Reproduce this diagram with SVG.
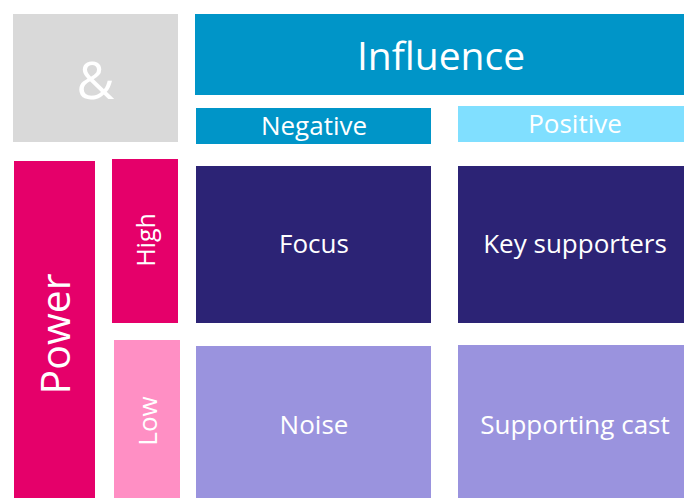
<svg xmlns="http://www.w3.org/2000/svg" width="684" height="498" viewBox="0 0 684 498">
  <style>
    text { font-family: "Open Sans", "Noto Sans", "Liberation Sans", sans-serif; fill: #ffffff; text-anchor: middle; }
    .grey { fill: #d9d9d9; }
    .blue { fill: #0095c8; }
    .light-blue { fill: #80dfff; }
    .magenta { fill: #e5006a; }
    .pink { fill: #ff8fc4; }
    .navy { fill: #2c2375; }
    .lavender { fill: #9a93de; }
    .cell { font-size: 26px; }
    .head { font-size: 26px; }
  </style>

  <!-- corner -->
  <g id="amp">
    <rect class="grey" x="13" y="14" width="165" height="128"/>
    <text x="95.5" y="99" font-size="52">&amp;</text>
  </g>

  <!-- column headers -->
  <g id="influence">
    <rect class="blue" x="195" y="14" width="489" height="81"/>
    <text x="441" y="70" font-size="39">Influence</text>
  </g>
  <g id="negative">
    <rect class="blue" x="196" y="108" width="235" height="36"/>
    <text class="head" x="314" y="135">Negative</text>
  </g>
  <g id="positive">
    <rect class="light-blue" x="458" y="106" width="226" height="36"/>
    <text class="head" x="575" y="133">Positive</text>
  </g>

  <!-- row headers -->
  <g id="power">
    <rect class="magenta" x="14" y="161" width="81" height="337"/>
    <text transform="translate(70,334) rotate(-90)" font-size="41">Power</text>
  </g>
  <g id="high">
    <rect class="magenta" x="112" y="159" width="66" height="164"/>
    <text transform="translate(155,240) rotate(-90)" font-size="25">High</text>
  </g>
  <g id="low">
    <rect class="pink" x="114" y="340" width="66" height="158"/>
    <text transform="translate(157,421) rotate(-90)" font-size="26">Low</text>
  </g>

  <!-- quadrants -->
  <g id="focus">
    <rect class="navy" x="196" y="166" width="235" height="157"/>
    <text class="cell" x="314" y="253">Focus</text>
  </g>
  <g id="key-supporters">
    <rect class="navy" x="458" y="166" width="226" height="157"/>
    <text class="cell" x="575" y="253">Key supporters</text>
  </g>
  <g id="noise">
    <rect class="lavender" x="196" y="346" width="235" height="152"/>
    <text class="cell" x="314" y="434">Noise</text>
  </g>
  <g id="supporting-cast">
    <rect class="lavender" x="458" y="345" width="226" height="153"/>
    <text class="cell" x="575" y="434">Supporting cast</text>
  </g>

  <g id="connectors"/>
</svg>
